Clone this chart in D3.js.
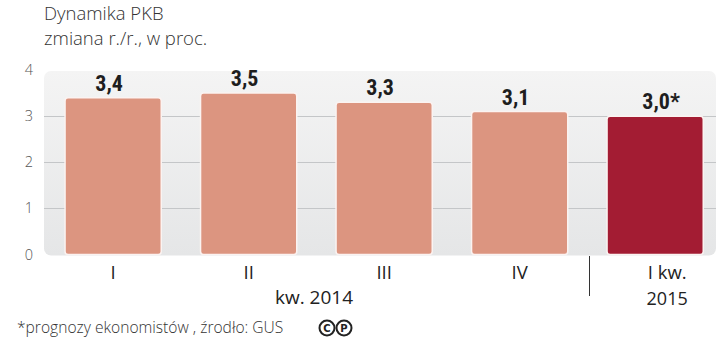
<!DOCTYPE html>
<html>
<head>
<meta charset="utf-8">
<script src="https://cdn.jsdelivr.net/npm/d3@7"></script>
<style>
  body { margin: 0; background: #fff; }
  svg { display: block; }
</style>
</head>
<body>
<svg id="chart" width="720" height="339"></svg>
<script>
// dane
const quarters = ['I', 'II', 'III', 'IV', 'I kw.'];
const values = [3.4, 3.5, 3.3, 3.1, 3.0];
const valueLabels = ['3,4', '3,5', '3,3', '3,1', '3,0*'];
const forecast = [false, false, false, false, true];
const yTicks = [0, 1, 2, 3, 4];

const svg = d3.select('#chart');
const bodyFont = '"Open Sans", "Noto Sans", sans-serif';
const numFont = '"Roboto Condensed", "Liberation Sans Narrow", "DejaVu Sans Condensed", sans-serif';

const y = d3.scaleLinear().domain([0, 4]).range([254.5, 70]);
const x = d3.scaleBand()
  .domain(d3.range(quarters.length))
  .range([45.4, 722.9])
  .paddingInner(0.29)
  .paddingOuter(0.145);

// tlo wykresu
const defs = svg.append('defs');
const grad = defs.append('linearGradient')
  .attr('id', 'panelGrad')
  .attr('x1', 0).attr('y1', 0).attr('x2', 0).attr('y2', 1);
grad.append('stop').attr('offset', '0%').attr('stop-color', '#f4f4f4');
grad.append('stop').attr('offset', '100%').attr('stop-color', '#e5e6e7');

svg.append('rect')
  .attr('x', 44).attr('y', y(4) + 1)
  .attr('width', 672).attr('height', y(0) - y(4))
  .attr('rx', 7)
  .attr('fill', 'url(#panelGrad)');

// linie siatki
svg.append('g')
  .selectAll('line')
  .data(yTicks.filter(d => d > 0 && d < 4))
  .join('line')
  .attr('x1', 44).attr('x2', 716)
  .attr('y1', d => Math.round(y(d)) + 0.5)
  .attr('y2', d => Math.round(y(d)) + 0.5)
  .attr('stroke', '#c4c6c8')
  .attr('stroke-width', 1);

// opisy osi Y
svg.append('g')
  .selectAll('text')
  .data(yTicks)
  .join('text')
  .attr('x', 29)
  .attr('y', d => y(d))
  .attr('dy', '0.35em')
  .attr('text-anchor', 'middle')
  .attr('font-family', bodyFont)
  .attr('font-weight', 300)
  .attr('font-size', '14.5px')
  .attr('fill', '#555')
  .text(d => d);

// slupki
svg.append('g')
  .selectAll('rect')
  .data(values)
  .join('rect')
  .attr('x', (d, i) => x(i))
  .attr('y', d => y(d))
  .attr('width', x.bandwidth())
  .attr('height', d => y(0) - y(d))
  .attr('rx', 3)
  .attr('fill', (d, i) => forecast[i] ? '#a31c33' : '#dc9580')
  .attr('stroke', '#fbf3f1')
  .attr('stroke-width', 1.5);

// wartosci
svg.append('g')
  .selectAll('text')
  .data(values)
  .join('text')
  .attr('x', (d, i) => x(i) + x.bandwidth() / 2 + (forecast[i] ? 6 : -4))
  .attr('y', d => y(d) - 7)
  .attr('text-anchor', 'middle')
  .attr('font-family', numFont)
  .attr('font-weight', 'bold')
  .attr('font-size', '22px')
  .attr('fill', '#1e1e1e')
  .text((d, i) => valueLabels[i]);

// opisy osi X
svg.append('g')
  .selectAll('text')
  .data(quarters)
  .join('text')
  .attr('x', (d, i) => x(i) + x.bandwidth() / 2 + (forecast[i] ? 12 : 0))
  .attr('y', 279)
  .attr('text-anchor', 'middle')
  .attr('font-family', bodyFont)
  .attr('font-size', '18.5px')
  .attr('fill', '#222')
  .text(d => d);

svg.append('text')
  .attr('x', 314).attr('y', 304)
  .attr('text-anchor', 'middle')
  .attr('font-family', bodyFont)
  .attr('font-size', '19px')
  .attr('fill', '#222')
  .text('kw. 2014');

svg.append('text')
  .attr('x', x(4) + x.bandwidth() / 2 + 12).attr('y', 305)
  .attr('text-anchor', 'middle')
  .attr('font-family', bodyFont)
  .attr('font-size', '18px')
  .attr('fill', '#222')
  .text('2015');

// separator lat
svg.append('line')
  .attr('x1', 589.5).attr('x2', 589.5)
  .attr('y1', 256).attr('y2', 296)
  .attr('stroke', '#333')
  .attr('stroke-width', 1);

// tytul
svg.append('text')
  .attr('x', 44).attr('y', 19.5)
  .attr('font-family', bodyFont)
  .attr('font-weight', 300)
  .attr('font-size', '18.5px')
  .attr('fill', '#333')
  .text('Dynamika PKB');

svg.append('text')
  .attr('x', 44).attr('y', 44.5)
  .attr('font-family', bodyFont)
  .attr('font-weight', 300)
  .attr('font-size', '18.5px')
  .attr('fill', '#333')
  .text('zmiana r./r., w proc.');

// przypis
svg.append('text')
  .attr('x', 17).attr('y', 333)
  .attr('font-family', bodyFont)
  .attr('font-weight', 300)
  .attr('font-size', '15.6px')
  .attr('fill', '#333')
  .text('*prognozy ekonomistów , źrodło: GUS');

// znaczki C i P
const marks = svg.append('g')
  .selectAll('g')
  .data(['C', 'P'])
  .join('g')
  .attr('transform', (d, i) => `translate(${327 + i * 17}, 328)`);
marks.append('circle')
  .attr('r', 7.5)
  .attr('fill', 'none')
  .attr('stroke', '#222')
  .attr('stroke-width', 2);
marks.append('text')
  .attr('dy', '0.36em')
  .attr('text-anchor', 'middle')
  .attr('font-family', 'DejaVu Sans, sans-serif')
  .attr('font-weight', 'bold')
  .attr('font-size', '10px')
  .attr('fill', '#222')
  .text(d => d);
</script>
</body>
</html>
